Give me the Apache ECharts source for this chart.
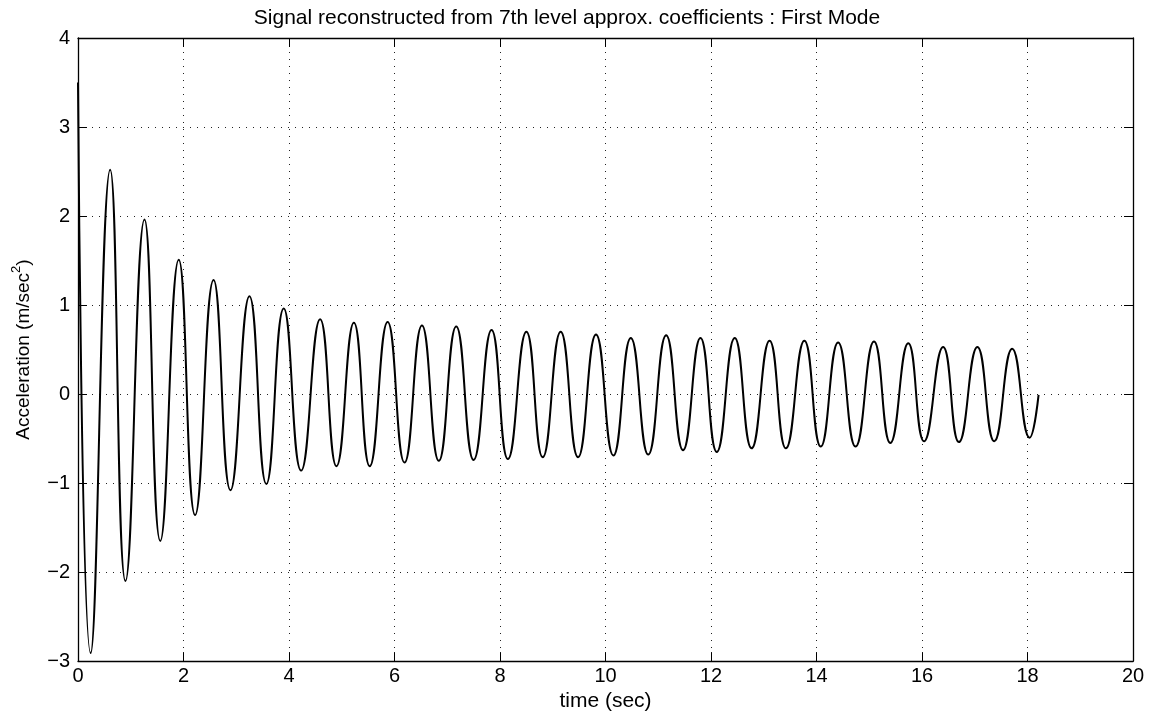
<!DOCTYPE html>
<html>
<head>
<meta charset="utf-8">
<script src="https://cdn.jsdelivr.net/npm/echarts@6/dist/echarts.min.js"></script>
<style>
  html, body { margin: 0; padding: 0; background: #fff; }
  #chart { width: 1151px; height: 717px; }
</style>
</head>
<body>
<div id="chart"></div>
<script>
// peaks / troughs (time in sec)
const timeSec = [
  0.00,
  0.24, 0.61, 0.90, 1.26, 1.56, 1.91, 2.22, 2.57, 2.89, 3.25,
  3.57, 3.90, 4.23, 4.59, 4.90, 5.23, 5.53, 5.87, 6.19, 6.52,
  6.84, 7.17, 7.50, 7.84, 8.15, 8.50, 8.81, 9.15, 9.48, 9.82,
  10.15, 10.48, 10.81, 11.15, 11.47, 11.80, 12.11, 12.45, 12.77, 13.11,
  13.42, 13.77, 14.08, 14.41, 14.74, 15.09, 15.40, 15.74, 16.04, 16.40,
  16.70, 17.05, 17.37, 17.71, 18.04,
  18.21
]
const accel = [
  3.50,
  -2.91, 2.52, -2.10, 1.96, -1.65, 1.51, -1.36, 1.28, -1.08, 1.10,
  -1.01, 0.96, -0.86, 0.84, -0.81, 0.80, -0.81, 0.81, -0.77, 0.77,
  -0.75, 0.76, -0.74, 0.72, -0.73, 0.70, -0.71, 0.70, -0.71, 0.67,
  -0.69, 0.63, -0.68, 0.66, -0.63, 0.63, -0.65, 0.63, -0.61, 0.60,
  -0.61, 0.60, -0.59, 0.58, -0.59, 0.59, -0.55, 0.57, -0.53, 0.53,
  -0.54, 0.53, -0.53, 0.51, -0.49,
  -0.01
]
const xTicks = [0, 2, 4, 6, 8, 10, 12, 14, 16, 18, 20]
const yTicks = [-3, -2, -1, 0, 1, 2, 3, 4]

const font = 'Liberation Sans, Arial, Helvetica, sans-serif'
const minus = v => String(v).replace('-', '\u2212')

const frameAxis = {
  type: 'value',
  axisLine: { show: true, onZero: false, lineStyle: { color: '#000', width: 1.3 } },
  axisTick: { show: true, inside: true, length: 9, lineStyle: { color: '#000' } },
  splitLine: { show: false },
  axisLabel: { show: false }
}
const dotted = { show: true, lineStyle: { color: '#222', type: [1, 6], width: 1 } }

var myChart = echarts.init(document.getElementById('chart'))

myChart.setOption({
  animation: false,
  backgroundColor: '#fff',
  title: {
    text: 'Signal reconstructed from 7th level approx. coefficients : First Mode',
    left: 562,
    top: 3,
    textAlign: 'center',
    textStyle: { fontFamily: font, fontSize: 21, fontWeight: 'normal', color: '#000' }
  },
  grid: { left: 78, right: 18, top: 38, bottom: 52 },
  xAxis: [
    Object.assign({}, frameAxis, {
      min: xTicks[0], max: xTicks[xTicks.length - 1], interval: 2,
      position: 'bottom',
      name: 'time (sec)',
      nameLocation: 'middle',
      nameGap: 28,
      nameTextStyle: { fontFamily: font, fontSize: 21, color: '#000' },
      axisLabel: { show: true, fontFamily: font, fontSize: 20, color: '#000', margin: 5 },
      splitLine: dotted
    }),
    Object.assign({}, frameAxis, {
      min: xTicks[0], max: xTicks[xTicks.length - 1], interval: 2,
      position: 'top'
    })
  ],
  yAxis: [
    Object.assign({}, frameAxis, {
      min: yTicks[0], max: yTicks[yTicks.length - 1], interval: 1,
      position: 'left',
      name: 'Acceleration (m/sec{sup|2})',
      nameLocation: 'middle',
      nameGap: 26,
      nameTextStyle: {
        fontFamily: font, fontSize: 19, color: '#000', lineHeight: 26,
        rich: { sup: { fontFamily: font, fontSize: 13, color: '#000', verticalAlign: 'top', lineHeight: 14 } }
      },
      axisLabel: { show: true, fontFamily: font, fontSize: 20, color: '#000', margin: 8, formatter: minus },
      splitLine: dotted
    }),
    Object.assign({}, frameAxis, {
      min: yTicks[0], max: yTicks[yTicks.length - 1], interval: 1,
      position: 'right'
    })
  ],
  series: [
    {
      type: 'line',
      data: timeSec.map((t, i) => [t, accel[i]]),
      smooth: 0.5,
      showSymbol: false,
      lineStyle: { color: '#000', width: 2 },
      clip: true
    }
  ]
})
</script>
</body>
</html>
